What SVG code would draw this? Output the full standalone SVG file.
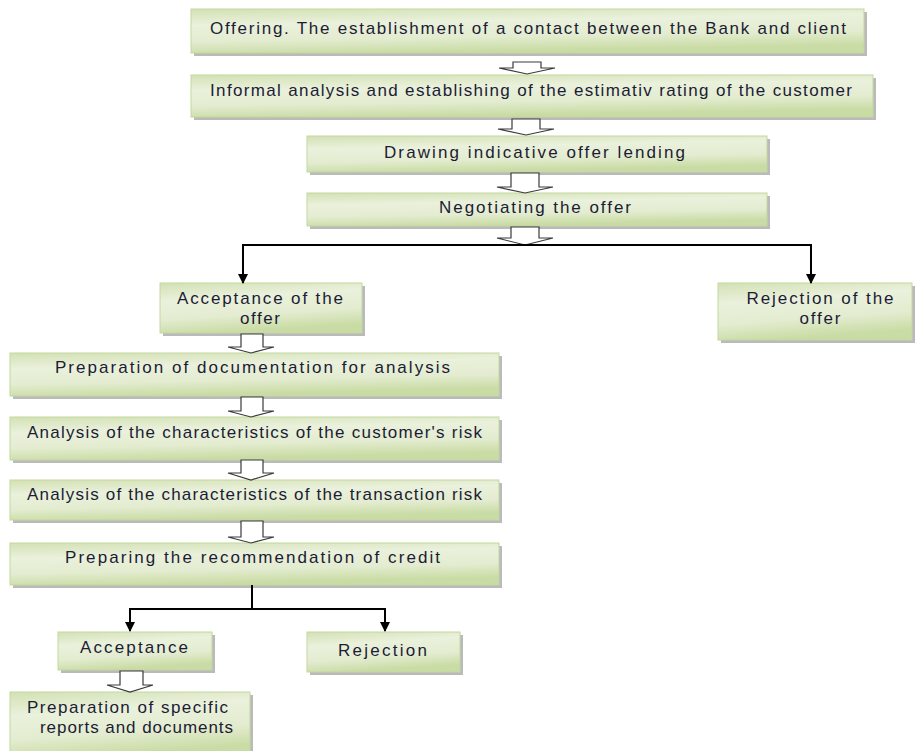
<svg xmlns="http://www.w3.org/2000/svg" width="915" height="751" viewBox="0 0 915 751">
<defs>
<linearGradient id="g" x1="0" y1="0" x2="0.25" y2="1">
<stop offset="0" stop-color="#d3e1b4"/>
<stop offset="0.35" stop-color="#eaf1dc"/>
<stop offset="0.7" stop-color="#e3ecd0"/>
<stop offset="1" stop-color="#cadca5"/>
</linearGradient>
<marker id="ah" viewBox="0 0 10 10" refX="9" refY="5" markerWidth="5" markerHeight="5" orient="auto" markerUnits="strokeWidth">
<path d="M0,0 L10,5 L0,10 z" fill="#000"/>
</marker>
</defs>
<style>
.sh{fill:#a9a9a9;opacity:0.8}
.bx{fill:url(#g);stroke:#c4d79e;stroke-width:1}
.t{font-family:"Liberation Sans",Arial,sans-serif;font-size:17px;fill:#1c1c34;text-anchor:middle}
.ha{fill:#fff;stroke:#3a3a3a;stroke-width:1.2;stroke-linejoin:miter}
.ln{fill:none;stroke:#000;stroke-width:2}
</style>

<g id="n1"><rect class="sh" x="194" y="12" width="673" height="44"/><rect class="bx" x="191" y="9" width="673" height="44"/><text class="t" x="528" y="34" textLength="636">Offering. The establishment of a contact between the Bank and client</text></g>
<g id="n2"><rect class="sh" x="194" y="78" width="682" height="42"/><rect class="bx" x="191" y="75" width="682" height="42"/><text class="t" x="531" y="96" textLength="642">Informal analysis and establishing of the estimativ rating  of the customer</text></g>
<g id="n3"><rect class="sh" x="310" y="139" width="460" height="36"/><rect class="bx" x="307" y="136" width="460" height="36"/><text class="t" x="534.5" y="158" textLength="301">Drawing indicative offer lending</text></g>
<g id="n4"><rect class="sh" x="310" y="196" width="460" height="33"/><rect class="bx" x="307" y="193" width="460" height="33"/><text class="t" x="535" y="213" textLength="192">Negotiating the offer</text></g>
<g id="n5"><rect class="sh" x="163" y="286" width="202" height="50"/><rect class="bx" x="160" y="283" width="202" height="50"/><text class="t" x="260" y="304" textLength="166">Acceptance of the</text><text class="t" x="260" y="324" textLength="40">offer</text></g>
<g id="n6"><rect class="sh" x="721" y="286" width="194" height="57"/><rect class="bx" x="718" y="283" width="194" height="57"/><text class="t" x="820" y="304" textLength="147">Rejection of the</text><text class="t" x="820" y="324" textLength="41">offer</text></g>
<g id="n7"><rect class="sh" x="13" y="356" width="489" height="43"/><rect class="bx" x="10" y="353" width="489" height="43"/><text class="t" x="252.5" y="373" textLength="395">Preparation of documentation for analysis</text></g>
<g id="n8"><rect class="sh" x="13" y="420" width="489" height="43"/><rect class="bx" x="10" y="417" width="489" height="43"/><text class="t" x="254.5" y="438" textLength="455">Analysis of the characteristics of the customer's risk</text></g>
<g id="n9"><rect class="sh" x="13" y="483" width="489" height="40"/><rect class="bx" x="10" y="480" width="489" height="40"/><text class="t" x="254.5" y="500" textLength="455">Analysis of the characteristics of the transaction risk</text></g>
<g id="n10"><rect class="sh" x="13" y="546" width="489" height="42"/><rect class="bx" x="10" y="543" width="489" height="42"/><text class="t" x="252.5" y="563" textLength="375">Preparing the recommendation of credit</text></g>
<g id="n11"><rect class="sh" x="61" y="635" width="154" height="38"/><rect class="bx" x="58" y="632" width="154" height="38"/><text class="t" x="134" y="653" textLength="108">Acceptance</text></g>
<g id="n12"><rect class="sh" x="310" y="635" width="153" height="40"/><rect class="bx" x="307" y="632" width="153" height="40"/><text class="t" x="382.5" y="656" textLength="89">Rejection</text></g>
<g id="n13"><rect class="sh" x="13" y="695" width="240" height="65"/><rect class="bx" x="10" y="692" width="240" height="65"/><text class="t" x="127.5" y="713" textLength="201">Preparation of specific</text><text class="t" x="136.5" y="733" textLength="193">reports and documents</text></g>

<g id="connectors">
<path class="ha" d="M513,62 L541,62 L541,68 L555,68 L527,74 L499,68 L513,68 Z"/>
<path class="ha" d="M512,119 L540,119 L540,129 L554,129 L526,135 L498,129 L512,129 Z"/>
<path class="ha" d="M511,173 L539,173 L539,187 L553,187 L525,193 L497,187 L511,187 Z"/>
<path class="ha" d="M511,227 L539,227 L539,238 L553,238 L525,245 L497,238 L511,238 Z"/>
<path class="ln" d="M527,245 L243,245 L243,283" marker-end="url(#ah)"/>
<path class="ln" d="M525,245 L811,245 L811,283" marker-end="url(#ah)"/>
<path class="ha" d="M241,334 L263,334 L263,347 L274,347 L251,353 L228,347 L241,347 Z"/>
<path class="ha" d="M241,397 L263,397 L263,411 L274,411 L251,417 L228,411 L241,411 Z"/>
<path class="ha" d="M241,460 L263,460 L263,473 L274,473 L251,480 L228,473 L241,473 Z"/>
<path class="ha" d="M241,521 L263,521 L263,537 L274,537 L251,543 L228,537 L241,537 Z"/>
<path class="ln" d="M252,585 L252,609 L130,609 L130,631" marker-end="url(#ah)"/>
<path class="ln" d="M251,609 L385,609 L385,631" marker-end="url(#ah)"/>
<path class="ha" d="M120,671 L143,671 L143,685 L153,685 L130,692 L107,685 L120,685 Z"/>
</g>
</svg>
